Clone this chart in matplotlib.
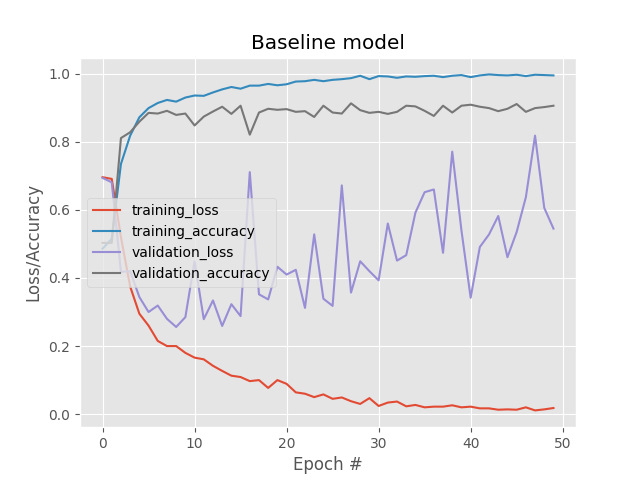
import numpy as np
import matplotlib
matplotlib.use("Agg")
import matplotlib.pyplot as plt

# per-epoch history values
training_loss = [0.696, 0.691, 0.52, 0.375, 0.295, 0.26, 0.215, 0.20, 0.20, 0.18,
                 0.166, 0.161, 0.142, 0.127, 0.113, 0.109, 0.097, 0.10, 0.077, 0.10,
                 0.089, 0.064, 0.06, 0.05, 0.058, 0.045, 0.049, 0.038, 0.030, 0.047,
                 0.024, 0.034, 0.037, 0.023, 0.027, 0.020, 0.022, 0.022, 0.026, 0.020,
                 0.022, 0.017, 0.017, 0.013, 0.014, 0.013, 0.020, 0.011, 0.014, 0.018]
training_accuracy = [0.486, 0.515, 0.735, 0.818, 0.872, 0.899, 0.914, 0.923, 0.918, 0.930,
                     0.936, 0.935, 0.945, 0.954, 0.961, 0.956, 0.965, 0.965, 0.970, 0.966,
                     0.969, 0.977, 0.978, 0.982, 0.978, 0.982, 0.984, 0.987, 0.994, 0.984,
                     0.993, 0.992, 0.988, 0.992, 0.991, 0.993, 0.994, 0.990, 0.994, 0.996,
                     0.990, 0.995, 0.998, 0.996, 0.995, 0.997, 0.993, 0.997, 0.996, 0.995]
validation_loss = [0.694, 0.681, 0.418, 0.42, 0.344, 0.30, 0.319, 0.28, 0.256, 0.285,
                   0.449, 0.279, 0.334, 0.259, 0.323, 0.288, 0.711, 0.352, 0.337, 0.433,
                   0.41, 0.424, 0.312, 0.528, 0.339, 0.318, 0.672, 0.357, 0.449, 0.42,
                   0.393, 0.56, 0.451, 0.467, 0.592, 0.652, 0.66, 0.474, 0.771, 0.54,
                   0.342, 0.491, 0.528, 0.582, 0.461, 0.535, 0.637, 0.818, 0.606, 0.545]
validation_accuracy = [0.503, 0.503, 0.811, 0.828, 0.859, 0.885, 0.883, 0.891, 0.879, 0.883,
                       0.848, 0.874, 0.889, 0.903, 0.882, 0.906, 0.821, 0.886, 0.897, 0.894,
                       0.896, 0.888, 0.890, 0.873, 0.906, 0.886, 0.883, 0.913, 0.893, 0.885,
                       0.888, 0.882, 0.888, 0.906, 0.904, 0.891, 0.876, 0.906, 0.886, 0.906,
                       0.909, 0.903, 0.899, 0.890, 0.897, 0.911, 0.888, 0.899, 0.902, 0.906]

epochs = np.arange(0, len(training_loss))

plt.style.use("ggplot")
plt.figure(figsize=(6.4, 4.8), dpi=100)
plt.plot(epochs, training_loss, label="training_loss")
plt.plot(epochs, training_accuracy, label="training_accuracy")
plt.plot(epochs, validation_loss, label="validation_loss")
plt.plot(epochs, validation_accuracy, label="validation_accuracy")
plt.title("Baseline model")
plt.xlabel("Epoch #")
plt.ylabel("Loss/Accuracy")
plt.legend(loc="center left")
plt.savefig("out.png")
